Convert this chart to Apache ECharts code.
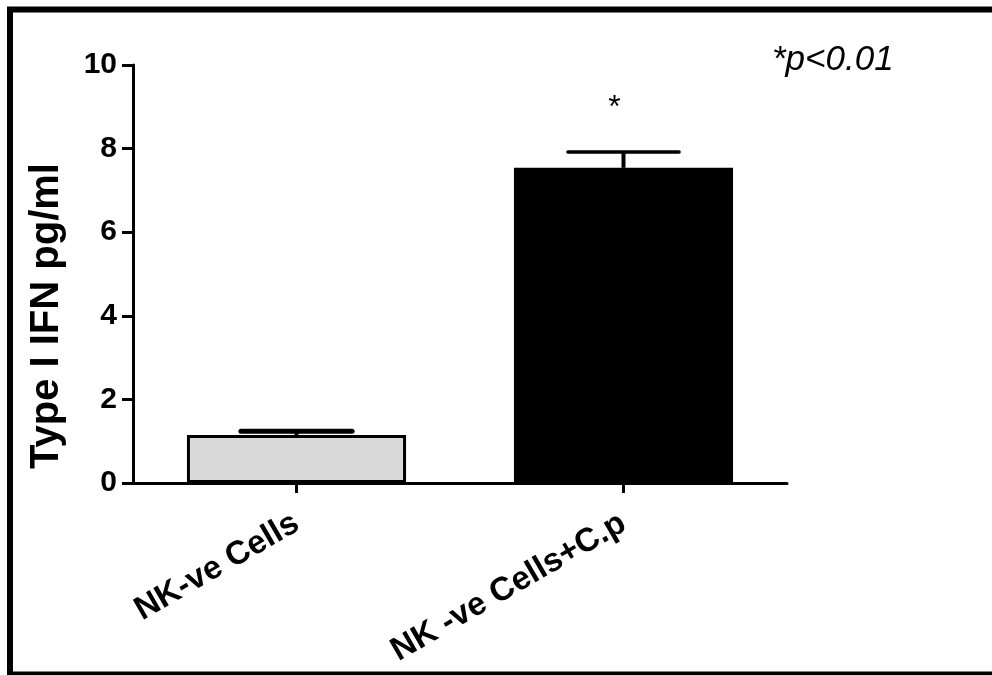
<!DOCTYPE html>
<html>
<head>
<meta charset="utf-8">
<script src="https://cdn.jsdelivr.net/npm/echarts@6/dist/echarts.min.js"></script>
<style>
  html, body { margin: 0; padding: 0; background: #fff; }
  #chart { width: 992px; height: 675px; }
</style>
</head>
<body>
<div id="chart"></div>
<script>
// Group names, mean values and upper error (SEM) for each bar
const categories = ['NK-ve Cells', 'NK -ve Cells+C.p'];
const meanValues = [1.15, 7.54];
const errorValues = [0.09, 0.38];
const significance = ['', '*'];
const barColors = ['#d9d9d9', '#000000'];
const yTicks = [0, 2, 4, 6, 8, 10];

const FONT = '"Liberation Sans", Arial, Helvetica, sans-serif';

const chart = echarts.init(document.getElementById('chart'), null, { renderer: 'canvas' });

const option = {
  backgroundColor: '#ffffff',
  animation: false,
  title: {
    text: '*p<0.01',
    left: 772,
    top: 43,
    padding: 0,
    textStyle: { fontFamily: FONT, fontStyle: 'italic', fontWeight: 'normal', fontSize: 35, color: '#000' }
  },
  grid: { left: 133, right: 205, top: 65, bottom: 192, containLabel: false, outerBoundsMode: 'none' },
  xAxis: {
    type: 'category',
    data: categories,
    boundaryGap: true,
    axisLine: { show: true, lineStyle: { color: '#000', width: 3 } },
    axisTick: { show: true, alignWithLabel: true, length: 10, lineStyle: { color: '#000', width: 3 } },
    axisLabel: {
      rotate: 30, margin: 38, interval: 0,
      fontFamily: FONT, fontWeight: 'bold', fontSize: 33, color: '#000'
    }
  },
  yAxis: {
    type: 'value',
    min: yTicks[0],
    max: yTicks[yTicks.length - 1],
    interval: 2,
    name: 'Type I IFN pg/ml',
    nameLocation: 'middle',
    nameGap: 66,
    nameRotate: 90,
    nameTextStyle: { fontFamily: FONT, fontWeight: 'bold', fontSize: 40, color: '#000', padding: [0, 84, 0, 0] },
    axisLine: { show: true, lineStyle: { color: '#000', width: 3 } },
    axisTick: { show: true, length: 11, lineStyle: { color: '#000', width: 3 } },
    axisLabel: { margin: 16, fontFamily: FONT, fontWeight: 'bold', fontSize: 30, color: '#000' },
    splitLine: { show: false }
  },
  series: [
    {
      type: 'bar',
      barWidth: '67%',
      data: meanValues.map((v, i) => ({
        value: v,
        itemStyle: { color: barColors[i], borderColor: '#000', borderWidth: 3 }
      })),
      z: 2
    },
    {
      // error bars (upper only) with significance marks
      type: 'custom',
      z: 3,
      data: meanValues.map((v, i) => [i, v, v + errorValues[i]]),
      renderItem: function (params, api) {
        const i = api.value(0);
        const base = api.coord([i, api.value(1)]);
        const top = api.coord([i, api.value(2)]);
        const half = api.size([1, 0])[0] * 0.17;
        const capW = i === 0 ? 5 : 3.5;
        const children = [
          { type: 'line', shape: { x1: base[0], y1: base[1], x2: top[0], y2: top[1] },
            style: { stroke: '#000', lineWidth: 4 } },
          { type: 'line', shape: { x1: top[0] - half, y1: top[1], x2: top[0] + half, y2: top[1] },
            style: { stroke: '#000', lineWidth: capW, lineCap: 'round' } }
        ];
        if (significance[i]) {
          children.push({
            type: 'text',
            style: {
              text: significance[i], x: top[0] - 9, y: top[1] - 44,
              fontFamily: FONT, fontSize: 32, fill: '#000',
              align: 'center', verticalAlign: 'middle'
            }
          });
        }
        return { type: 'group', children: children };
      }
    }
  ],
  graphic: [
    {
      type: 'rect',
      shape: { x: 10, y: 9.5, width: 1000, height: 665 },
      style: { fill: 'none', stroke: '#000', lineWidth: 6 },
      silent: true
    }
  ]
};

chart.setOption(option);
</script>
</body>
</html>
